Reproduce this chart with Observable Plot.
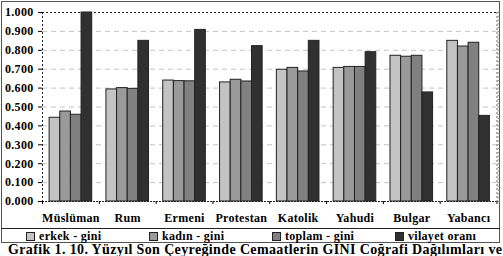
<!DOCTYPE html>
<html>
<head>
<meta charset="utf-8">
<script src="https://cdn.jsdelivr.net/npm/d3@7"></script>
<script src="https://cdn.jsdelivr.net/npm/@observablehq/plot@0.6"></script>
<style>
  html, body { margin: 0; padding: 0; background: #fff; }
  #wrap { position: relative; width: 503px; height: 256px; overflow: hidden; background: #fff;
          font-family: "Liberation Serif", "Times New Roman", serif; font-weight: bold; color: #000; }
  #frame { position: absolute; left: 1px; top: 1px; width: 499px; height: 242px; box-sizing: border-box;
           border: 1px solid #555; }
  #chart { position: absolute; left: 0; top: 0; }
  #legend { position: absolute; left: 1px; top: 228px; width: 499px; height: 15px; box-sizing: border-box;
            border-top: 1px solid #222; }
  .item { position: absolute; top: 0; height: 14px; display: flex; align-items: center; font-size: 12px;
          letter-spacing: 0.3px; white-space: nowrap; }
  .sw { width: 7px; height: 7px; border: 1px solid #222; margin-right: 4px; }
  #caption { position: absolute; left: 8px; top: 244px; height: 12px; font-size: 14px; line-height: 12px;
             letter-spacing: 0.37px; white-space: nowrap; }
</style>
</head>
<body>
<div id="wrap">
  <div id="frame"></div>
  <div id="chart"></div>
  <div id="legend"></div>
  <div id="caption">Grafik 1. 10. Yüzyıl Son Çeyreğinde Cemaatlerin GINI Coğrafi Dağılımları ve</div>
</div>
<script>
// Communities (cemaatler)
const categories = ["Müslüman", "Rum", "Ermeni", "Protestan", "Katolik", "Yahudi", "Bulgar", "Yabancı"];
// Series names, in legend order
const series = ["erkek - gini", "kadın - gini", "toplam - gini", "vilayet oranı"];
// GINI values per community
const erkekGini   = [0.443, 0.593, 0.640, 0.630, 0.697, 0.707, 0.771, 0.850];
const kadinGini   = [0.476, 0.600, 0.637, 0.644, 0.707, 0.712, 0.766, 0.820];
const toplamGini  = [0.459, 0.596, 0.636, 0.635, 0.688, 0.712, 0.771, 0.840];
const vilayetOran = [1.000, 0.850, 0.908, 0.822, 0.850, 0.790, 0.577, 0.453];
// Y axis tick values
const yTicks = [0, 0.1, 0.2, 0.3, 0.4, 0.5, 0.6, 0.7, 0.8, 0.9, 1.0];

const colors = ["#c3c3c3", "#9a9a9a", "#808080", "#303030"];
const valueArrays = [erkekGini, kadinGini, toplamGini, vilayetOran];

// Grouped bar layout inside each category slot [i, i+1]
const groupPad = 0.125;
const barW = (1 - 2 * groupPad) / series.length;

const rows = [];
categories.forEach((cat, i) => {
  series.forEach((s, j) => {
    rows.push({cat, series: s, i, j, value: valueArrays[j][i]});
  });
});

const chart = Plot.plot({
  width: 503,
  height: 228,
  marginLeft: 42,
  marginRight: 6.5,
  marginTop: 12,
  marginBottom: 27,
  x: {type: "linear", domain: [0, categories.length]},
  y: {domain: [0, 1]},
  color: {domain: series, range: colors},
  style: {fontFamily: "'Liberation Serif', 'Times New Roman', serif", fontWeight: "bold", fontSize: "12px", color: "#000", background: "transparent", overflow: "visible", letterSpacing: "0.3px"},
  marks: [
    Plot.ruleY(yTicks.slice(1, -1), {stroke: "#c4c4c4", strokeDasharray: "5,4"}),
    Plot.ruleY([1], {stroke: "#222", strokeDasharray: "2,2"}),
    Plot.rectY(rows, {
      x1: d => d.i + groupPad + d.j * barW,
      x2: d => d.i + groupPad + (d.j + 1) * barW,
      y: "value",
      fill: "series",
      stroke: "#222",
      strokeWidth: 1
    }),
    Plot.ruleY([0], {stroke: "#222", strokeDasharray: "2,1"}),
    Plot.ruleX([0], {stroke: "#222", strokeDasharray: "2,2"}),
    Plot.ruleX([categories.length], {stroke: "#666", strokeDasharray: "2,2"}),
    Plot.axisY({ticks: yTicks, tickFormat: d3.format(".3f"), tickSize: 4, tickPadding: 5, label: null}),
    Plot.axisY({anchor: "right", ticks: d3.range(0, 51).map(k => k / 50), tickSize: 2, tickFormat: () => "", label: null, stroke: "#888"}),
    Plot.axisX({ticks: categories.map((c, i) => i + 0.5), tickSize: 0, tickPadding: 12, tickFormat: v => categories[Math.floor(v)], label: null}),
    Plot.axisX({ticks: d3.range(0, categories.length + 1), tickSize: 3, tickFormat: () => "", label: null})
  ]
});
document.getElementById("chart").appendChild(chart);

// Legend row under the chart
const legend = document.getElementById("legend");
const legendStart = 25, legendStep = 123;
series.forEach((s, j) => {
  const item = document.createElement("div");
  item.className = "item";
  item.style.left = (legendStart + j * legendStep) + "px";
  const sw = document.createElement("span");
  sw.className = "sw";
  sw.style.background = colors[j];
  const tx = document.createElement("span");
  tx.textContent = s;
  item.appendChild(sw);
  item.appendChild(tx);
  legend.appendChild(item);
});
</script>
</body>
</html>
